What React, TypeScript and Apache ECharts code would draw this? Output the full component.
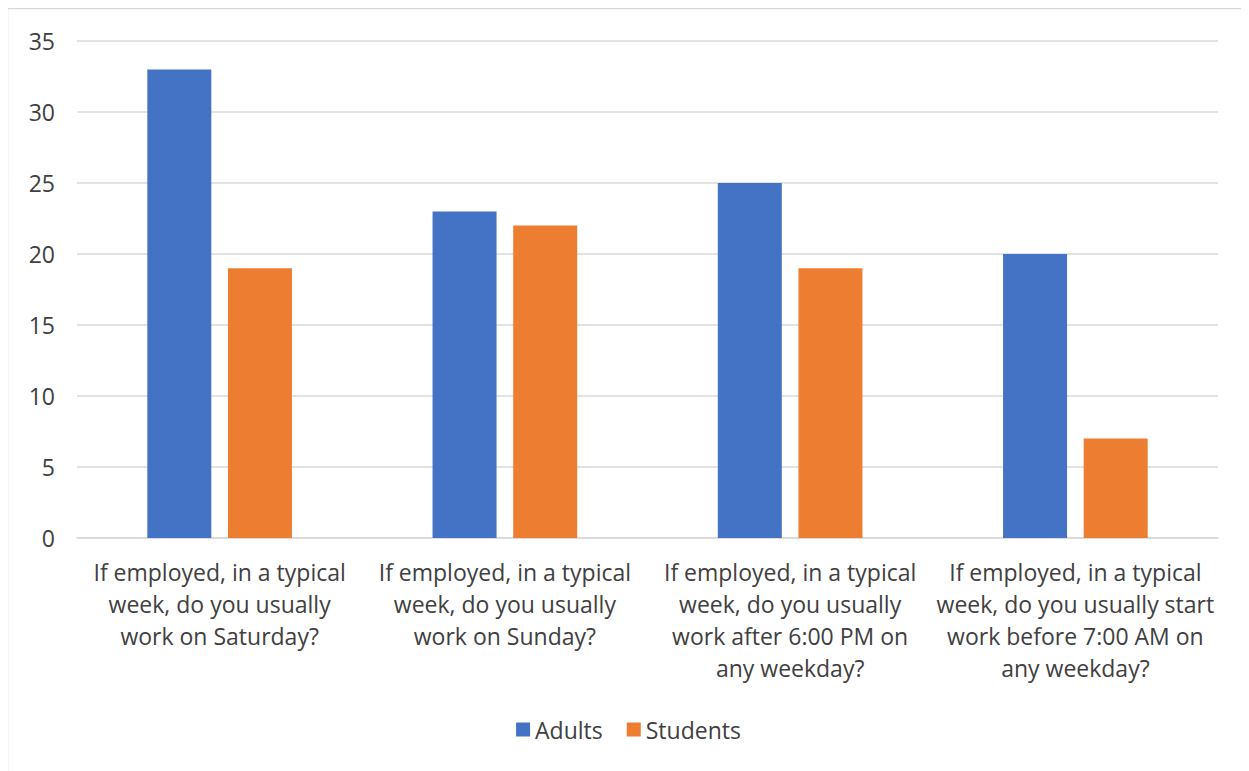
import React, { useEffect, useRef } from "react";
import * as echarts from "echarts";

const categories = [
  "If employed, in a typical\nweek, do you usually\nwork on Saturday?",
  "If employed, in a typical\nweek, do you usually\nwork on Sunday?",
  "If employed, in a typical\nweek, do you usually\nwork after 6:00 PM on\nany weekday?",
  "If employed, in a typical\nweek, do you usually start\nwork before 7:00 AM on\nany weekday?",
];
const adults = [33, 23, 25, 20];
const students = [19, 22, 19, 7];

export default function App() {
  const ref = useRef<HTMLDivElement>(null);
  useEffect(() => {
    const chart = echarts.init(ref.current!, null, { renderer: "svg" });
    const font = "'Open Sans', sans-serif";
    chart.setOption({
      animation: false,
      graphic: [
        {
          type: "rect",
          shape: { x: -0.5, y: 0.5, width: 1240, height: 800 },
          style: { fill: "none", stroke: "#D9D9D9", lineWidth: 1.5 },
          silent: true,
        },
      ],
      grid: { left: 69, right: 31, top: 33, bottom: 233, containLabel: false },
      legend: {
        bottom: 25,
        left: "center",
        itemWidth: 14,
        itemHeight: 14,
        itemGap: 24,
        itemTextGap: 10,
        icon: "rect",
        textStyle: { fontSize: 23, color: "#404040", fontFamily: font },
        data: ["Adults", "Students"],
      },
      xAxis: {
        type: "category",
        data: categories,
        axisLine: { lineStyle: { color: "#D9D9D9", width: 1.5 } },
        axisTick: { show: false },
        axisLabel: {
          fontSize: 23,
          lineHeight: 32,
          color: "#404040",
          fontFamily: font,
          interval: 0,
          margin: 18,
          align: "center",
        },
      },
      yAxis: {
        type: "value",
        min: 0,
        max: 35,
        interval: 5,
        axisLine: { show: false },
        axisTick: { show: false },
        splitLine: { lineStyle: { color: "#D9D9D9", width: 1.5 } },
        axisLabel: { fontSize: 23, color: "#404040", fontFamily: font, margin: 22 },
      },
      series: [
        {
          name: "Adults",
          type: "bar",
          data: adults,
          barWidth: 64,
          barGap: "26%",
          itemStyle: { color: "#4472C4" },
        },
        {
          name: "Students",
          type: "bar",
          data: students,
          barWidth: 64,
          itemStyle: { color: "#ED7D31" },
        },
      ],
    });
    return () => chart.dispose();
  }, []);
  return <div ref={ref} style={{ width: 1241, height: 763 }} />;
}
